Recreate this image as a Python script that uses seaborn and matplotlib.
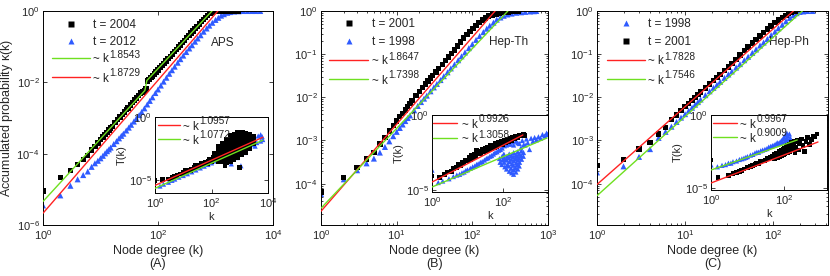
import numpy as np
import matplotlib
matplotlib.use("Agg")
import matplotlib.pyplot as plt
from matplotlib.ticker import LogLocator, NullLocator, NullFormatter
import seaborn as sns

# ---------------- data (log10 of the y values) ----------------
# Panel A, APS
k_aps_2004 = [1, 2, 3, 4, 5, 6, 7, 8, 9, 10, 11, 12, 13, 14, 15, 16, 18, 20, 22, 24, 26, 28, 30, 33, 36,
              39, 42, 46, 50, 55, 59, 62, 66, 70, 75, 80, 86, 93, 100, 108, 117, 127, 138, 150, 163, 177,
              192, 209, 227, 247, 268, 291, 316, 344, 374, 406, 441, 480, 522, 567, 616, 670, 730, 800,
              880, 970, 1080, 1200, 1400, 1650, 1900, 2200, 2500]
lp_aps_2004 = [-5.05, -4.66, -4.47, -4.3, -4.16, -4.05, -3.9, -3.8, -3.7, -3.61, -3.53, -3.46, -3.4, -3.34,
               -3.28, -3.23, -3.13, -3.05, -2.97, -2.9, -2.83, -2.77, -2.72, -2.64, -2.57, -2.5, -2.44,
               -2.37, -2.3, -2.27, -2.23, -2.19, -1.96, -1.92, -1.87, -1.82, -1.77, -1.71, -1.65, -1.59,
               -1.53, -1.47, -1.4, -1.34, -1.27, -1.21, -1.14, -1.08, -1.01, -0.95, -0.88, -0.82, -0.75,
               -0.69, -0.62, -0.56, -0.49, -0.43, -0.36, -0.3, -0.24, -0.18, -0.12, -0.07, -0.04, -0.02,
               -0.01, 0, 0, 0, 0, 0, 0]
k_aps_2012 = [1, 2, 3, 4, 5, 6, 7, 8, 9, 10, 11, 12, 13, 14, 15, 17, 19, 21, 23, 25, 28, 31, 34, 38, 42,
              47, 52, 58, 65, 72, 80, 90, 100, 112, 125, 140, 157, 175, 195, 220, 245, 275, 310, 350, 390,
              440, 490, 550, 620, 700, 780, 880, 1000, 1120, 1250, 1400, 1600, 1800, 2100, 2500, 3000,
              3600, 4300, 5000, 6000]
lp_aps_2012 = [-5.45, -5.17, -4.9, -4.72, -4.6, -4.5, -4.37, -4.27, -4.2, -4.13, -4.06, -3.99, -3.93, -3.88,
               -3.83, -3.73, -3.65, -3.57, -3.5, -3.44, -3.35, -3.27, -3.19, -3.1, -3.01, -2.92, -2.83,
               -2.73, -2.62, -2.52, -2.42, -2.3, -2.2, -2.09, -1.98, -1.87, -1.76, -1.66, -1.56, -1.45,
               -1.35, -1.25, -1.15, -1.05, -0.96, -0.86, -0.77, -0.68, -0.58, -0.49, -0.41, -0.33, -0.25,
               -0.19, -0.13, -0.09, -0.05, -0.03, -0.015, -0.008, 0, 0, 0, 0, 0]
fit_aps_green = ([1, 59, 64, 870], [-5.34, -2.23, -1.95, 0])
fit_aps_red = ([1, 1100], [-5.67, 0])

# Panel A inset
tk_aps_2004 = [1, 1.9, 3, 4, 5, 6, 8, 10, 13, 16, 20, 25, 30, 40, 50, 60, 75, 90, 110,
               12, 18, 28, 35, 45, 70, 85, 100, 120,
               125, 130, 122, 175, 170, 180, 172, 178, 240, 235, 245, 238, 242, 236,
               330, 325, 335, 320, 340, 328, 332, 460, 450, 470, 455, 465, 448, 462, 458,
               630, 620, 640, 625, 635, 615, 645, 628, 870, 860, 880, 855, 875, 865, 885, 850,
               1200, 1180, 1220, 1190, 1210, 1170, 1230, 1650, 1620, 1680, 1600, 1700, 1640,
               2300, 2250, 2350, 2280, 2320, 3150, 3100, 3200, 300, 1000]
tl_aps_2004 = [-5.0, -4.95, -4.9, -4.75, -4.7, -4.6, -4.5, -4.4, -4.3, -4.2, -4.1, -4.0, -3.92, -3.8, -3.7,
               -3.62, -3.52, -3.45, -3.35,
               -4.25, -4.25, -3.85, -3.95, -3.65, -3.65, -3.35, -3.5, -3.2,
               -3.4, -3.1, -2.85, -3.5, -3.2, -2.9, -2.6, -2.35, -3.55, -3.25, -2.95, -2.65, -2.35, -2.05,
               -3.6, -3.3, -3.0, -2.7, -2.4, -2.1, -1.8, -3.5, -3.2, -2.9, -2.6, -2.3, -2.0, -1.7, -1.45,
               -3.4, -3.1, -2.8, -2.5, -2.2, -1.9, -1.6, -1.35, -3.2, -2.9, -2.6, -2.3, -2.0, -1.7, -1.4,
               -1.2, -3.0, -2.7, -2.4, -2.1, -1.8, -1.5, -1.25, -2.8, -2.5, -2.2, -1.9, -1.6, -1.3,
               -2.5, -2.2, -1.9, -1.6, -1.35, -2.1, -1.8, -1.5, -3.8, -3.97]
tk_aps_2012 = [1.5, 2, 3, 4, 5, 7, 10, 14, 20, 28, 40, 55, 75, 100, 140, 200, 280, 400, 550, 750, 1000,
               1400, 2000, 2800, 4000, 5500, 6500, 300, 500, 800, 1500, 1100, 3000, 4500, 5500, 6200,
               3500, 2500]
tl_aps_2012 = [-5.45, -5.3, -5.15, -5.0, -4.9, -4.75, -4.62, -4.48, -4.33, -4.18, -4.02, -3.88, -3.75,
               -3.62, -3.47, -3.32, -3.18, -3.02, -2.88, -2.75, -2.62, -2.47, -2.32, -2.18, -2.02, -1.9,
               -1.78, -3.5, -3.7, -3.2, -2.8, -3.85, -1.6, -1.5, -1.4, -1.55, -2.3, -1.9]
tfit_aps_red = ([1, 6600], [-5.4, -1.6])
tfit_aps_green = ([1, 6600], [-5.63, -1.83])

# Panel B, Hep-Th
k_th_2001 = [1, 2, 3, 4, 5, 6, 7, 8, 9, 10, 11, 12, 13, 14, 15, 16, 18, 20, 22, 24, 26, 28, 30, 33, 36,
             40, 44, 48, 53, 58, 64, 70, 77, 85, 93, 102, 112, 123, 135, 150, 165, 185, 205, 230, 260,
             300, 350, 400]
lp_th_2001 = [-4.19, -3.86, -3.62, -3.43, -3.28, -3.08, -2.93, -2.78, -2.66, -2.55, -2.45, -2.37, -2.29,
              -2.21, -2.14, -2.07, -1.96, -1.86, -1.77, -1.69, -1.62, -1.55, -1.49, -1.41, -1.33, -1.24,
              -1.15, -1.07, -0.98, -0.9, -0.81, -0.72, -0.63, -0.55, -0.47, -0.4, -0.33, -0.27, -0.21,
              -0.16, -0.12, -0.09, -0.07, -0.05, -0.03, -0.02, -0.01, 0]
k_th_1998 = [1, 2, 3, 4, 5, 6, 7, 8, 9, 10, 11, 12, 13, 14, 15, 17, 19, 21, 23, 25, 28, 31, 34, 38, 42,
             47, 52, 58, 65, 72, 80, 90, 100, 112, 125, 140, 155, 170, 190, 210, 235, 260, 290, 330, 380,
             440, 500, 580, 650, 700]
lp_th_1998 = [-4.24, -3.9, -3.69, -3.53, -3.42, -3.28, -3.15, -3.02, -2.9, -2.8, -2.71, -2.63, -2.55,
              -2.48, -2.42, -2.3, -2.2, -2.11, -2.03, -1.96, -1.86, -1.77, -1.69, -1.6, -1.51, -1.42,
              -1.33, -1.24, -1.14, -1.05, -0.96, -0.86, -0.77, -0.67, -0.58, -0.49, -0.41, -0.34, -0.27,
              -0.2, -0.15, -0.11, -0.08, -0.06, -0.04, -0.03, -0.02, -0.01, -0.005, 0]
fit_th_red = ([1, 200], [-4.64, 0])
fit_th_green = ([1, 295], [-4.57, 0])

# Panel B inset
tk_th_2001 = [1, 1.6, 2.2, 2.8, 3.5, 4, 5, 5.5, 6.5, 7, 8, 9, 10, 11, 12, 13, 14, 16, 17, 18, 20, 22, 24,
              26, 28, 31, 34, 37, 40, 44, 48, 52, 57, 62, 68, 75, 82, 90, 100, 110, 120, 130, 145, 160,
              175, 190, 210, 230, 260, 290, 330, 370, 420]
tl_th_2001 = [-4.07, -4.15, -3.95, -3.8, -3.75, -3.55, -3.5, -3.3, -3.35, -3.15, -3.2, -3.0, -3.05, -2.85,
              -2.95, -2.7, -2.85, -2.6, -2.75, -2.35, -2.55, -2.4, -2.6, -2.3, -2.45, -2.2, -2.4, -2.15,
              -2.3, -2.05, -2.25, -2.0, -2.15, -1.9, -2.1, -1.85, -2.0, -1.75, -1.95, -1.7, -1.85, -1.6,
              -1.8, -1.55, -1.7, -1.5, -1.6, -1.45, -1.5, -1.35, -1.4, -1.3, -1.35]
tk_th_1998 = [1, 1.5, 2, 3, 4, 5, 6, 7, 8, 9, 10, 12, 14, 16, 18, 20, 23, 26, 30, 34, 38, 43, 48, 54, 60,
              68, 75, 85, 95, 110, 125, 140, 160, 180, 200, 230, 260, 290, 320, 350, 380, 420, 460, 500,
              560, 620, 700, 780, 880, 1000, 1150, 1300, 1500, 1700, 1800,
              80, 83, 95, 97, 93, 110, 108, 113, 106, 130, 128, 133, 126, 150, 148, 153, 146, 151,
              175, 172, 178, 170, 176, 200, 197, 204, 195, 202, 199, 230, 226, 234, 228, 232,
              260, 256, 264, 258, 262, 290, 286, 294, 288, 330, 325, 335, 380, 375]
tl_th_1998 = [-3.67, -4.5, -4.4, -4.25, -4.1, -4.0, -3.95, -3.85, -3.8, -3.7, -3.65, -3.55, -3.45, -3.4,
              -3.3, -3.25, -3.15, -3.1, -3.0, -2.9, -2.85, -2.75, -2.7, -2.6, -2.5, -2.45, -2.35, -2.3,
              -2.2, -2.05, -2.0, -1.9, -1.95, -1.8, -2.0, -1.75, -1.85, -1.9, -2.2, -1.7, -2.0, -2.0,
              -1.6, -1.85, -2.3, -1.55, -1.75, -1.5, -1.65, -1.45, -1.55, -1.3, -1.4, -1.2, -1.3,
              -2.9, -3.15, -2.75, -3.0, -3.3, -2.9, -3.15, -3.45, -2.6, -2.75, -3.0, -3.3, -3.6,
              -2.6, -2.85, -3.1, -3.4, -3.75, -2.7, -2.95, -3.25, -3.55, -3.85, -2.5, -2.8, -3.05,
              -3.35, -3.65, -3.95, -2.65, -2.9, -3.2, -3.5, -3.8, -2.45, -2.75, -3.0, -3.3, -3.6,
              -2.6, -2.85, -3.15, -3.4, -2.4, -2.7, -2.95, -2.5, -2.75]
tfit_th_red = ([1, 365], [-4.47, -1.33])
tfit_th_green = ([1, 1740], [-4.8, -1.53])

# Panel C, Hep-Ph
k_ph_1998 = [1, 2, 3, 4, 5, 6, 7, 8, 9, 10, 11, 12, 13, 14, 15, 17, 19, 21, 23, 25, 28, 31, 34, 38, 42,
             47, 52, 58, 64, 71, 78, 86, 95, 105, 115, 127, 140, 155, 170, 185, 200, 220, 245, 280]
lp_ph_1998 = [-3.74, -3.6, -3.38, -3.2, -2.94, -2.8, -2.68, -2.57, -2.47, -2.39, -2.31, -2.24, -2.17,
              -2.11, -2.05, -1.95, -1.86, -1.78, -1.71, -1.64, -1.55, -1.47, -1.4, -1.31, -1.23, -1.14,
              -1.06, -0.97, -0.89, -0.8, -0.73, -0.65, -0.56, -0.48, -0.4, -0.32, -0.24, -0.16, -0.1,
              -0.05, -0.02, -0.01, 0, 0]
k_ph_2001 = [1, 2, 3, 4, 5, 6, 7, 8, 9, 10, 11, 12, 13, 14, 15, 17, 19, 21, 23, 25, 28, 31, 34, 38, 42,
             47, 52, 58, 64, 71, 78, 86, 95, 105, 115, 127, 140, 150, 160, 170, 180]
lp_ph_2001 = [-3.58, -3.44, -3.2, -3.04, -2.85, -2.7, -2.52, -2.41, -2.31, -2.22, -2.14, -2.07, -2.0,
              -1.94, -1.88, -1.78, -1.69, -1.61, -1.54, -1.47, -1.38, -1.3, -1.22, -1.12, -1.02, -0.92,
              -0.83, -0.74, -0.66, -0.58, -0.5, -0.42, -0.35, -0.27, -0.21, -0.15, -0.1, -0.06, -0.03,
              -0.01, 0]
fit_ph_red = ([1, 170], [-4.02, 0])
fit_ph_green = ([1, 215], [-4.28, 0])

# Panel C inset
tk_ph_1998 = [1, 1.5, 2, 2.5, 3, 3.5, 4, 5, 6, 7, 8, 9, 10, 12, 14, 16, 18, 20, 23, 26, 30, 34, 38, 43,
              48, 54, 60, 65, 70, 78, 85, 90, 95, 100, 105, 110, 115, 120, 125, 130, 135, 140, 150, 100,
              110]
tl_ph_1998 = [-3.42, -3.55, -3.45, -3.4, -3.3, -3.3, -3.2, -3.15, -3.05, -3.0, -2.95, -2.9, -2.85, -2.75,
              -2.7, -2.6, -2.55, -2.55, -2.45, -2.4, -2.35, -2.3, -2.2, -2.15, -2.1, -2.05, -2.0, -1.9,
              -1.95, -1.85, -1.75, -1.9, -1.65, -1.5, -1.8, -1.35, -1.6, -1.25, -1.7, -1.45, -1.75, -1.3,
              -1.6, -2.55, -2.4]
tk_ph_2001 = [1, 1.55, 3, 4, 5, 6, 7, 8, 10, 12, 14, 16, 18, 20, 23, 26, 30, 34, 38, 43, 48, 54, 54, 60,
              60, 68, 68, 75, 75, 85, 85, 95, 95, 105, 105, 115, 115, 125, 125, 140, 140, 150, 160, 170,
              180, 190, 200, 210, 230, 250, 270, 300, 330, 360, 400, 450, 500, 560, 620, 700, 800]
tl_ph_2001 = [-3.08, -4.3, -4.15, -4.0, -3.95, -3.85, -3.8, -3.7, -3.6, -3.55, -3.45, -3.4, -3.35, -3.3,
              -3.2, -3.15, -3.1, -3.0, -2.95, -2.9, -2.85, -2.7, -3.0, -2.65, -2.95, -2.6, -2.9, -2.5,
              -2.85, -2.45, -2.75, -2.35, -2.7, -2.3, -2.65, -2.2, -2.55, -2.1, -2.6, -2.0, -2.5, -2.3,
              -1.9, -2.4, -2.1, -1.8, -2.6, -2.2, -1.75, -2.4, -1.95, -1.65, -2.1, -2.5, -1.8, -1.55,
              -2.0, -1.7, -1.5, -1.45, -1.3]
tfit_ph_red = ([1, 850], [-4.66, -1.85])
tfit_ph_green = ([1, 230], [-3.77, -1.71])

# ---------------- style ----------------
sns.set_style("ticks")
plt.rcParams['font.family'] = ['Liberation Sans', 'DejaVu Sans']
plt.rcParams['mathtext.fontset'] = 'custom'
plt.rcParams['mathtext.rm'] = 'Liberation Sans'
plt.rcParams['mathtext.it'] = 'Liberation Sans:italic'
plt.rcParams['mathtext.bf'] = 'Liberation Sans:bold'
plt.rcParams['axes.linewidth'] = 0.7

BLUE = '#2f5bff'
RED = '#ff2222'
GREEN = '#6fe020'
SQ = 15
TRI = 19

W, H = 830, 276


def pow10(e):
    return r'$\mathregular{10^{%d}}$' % e


def squares(ax, k, lp, size=SQ):
    sns.scatterplot(x=k, y=np.power(10.0, lp), marker='s', s=size, color='black',
                    edgecolor='none', linewidth=0, ax=ax, legend=False, zorder=3)


def triangles(ax, k, lp, size=TRI):
    sns.scatterplot(x=k, y=np.power(10.0, lp), marker='^', s=size, color=BLUE,
                    edgecolor='none', linewidth=0, ax=ax, legend=False, zorder=2)


def fitline(ax, k, lp, color):
    sns.lineplot(x=k, y=np.power(10.0, lp), color=color, lw=1.0, ax=ax, legend=False,
                 estimator=None, sort=False, zorder=4)


def style_axes(ax, xlim, ylim, xt, yt, minor, labelsize=8):
    ax.set_xscale('log')
    ax.set_yscale('log')
    ax.set_xlim(*xlim)
    ax.set_ylim(*ylim)
    ax.set_xticks([10.0 ** e for e in xt])
    ax.set_xticklabels([pow10(e) for e in xt])
    ax.set_yticks([10.0 ** e for e in yt])
    ax.set_yticklabels([pow10(e) for e in yt])
    if minor:
        ax.xaxis.set_minor_locator(LogLocator(base=10, subs=np.arange(2, 10)))
        ax.yaxis.set_minor_locator(LogLocator(base=10, subs=np.arange(2, 10)))
    else:
        ax.xaxis.set_minor_locator(NullLocator())
        ax.yaxis.set_minor_locator(NullLocator())
    ax.xaxis.set_minor_formatter(NullFormatter())
    ax.yaxis.set_minor_formatter(NullFormatter())
    ax.tick_params(which='both', direction='in', top=True, right=True, width=0.6,
                   labelsize=labelsize, pad=2.5)
    ax.tick_params(which='major', length=3)
    ax.tick_params(which='minor', length=1.6)
    for s in ax.spines.values():
        s.set_visible(True)
        s.set_color('black')
    ax.set_facecolor('white')


def add_axes_px(left, top, right, bottom):
    return fig.add_axes([left / W, 1 - bottom / H, (right - left) / W, (bottom - top) / H])


def px_legend(ax, entries, x1, x2, xt, rows, fontsize=8.5, expsize=7.3):
    # legend drawn by hand in figure pixels (measured from the top-left corner)
    renderer = fig.canvas.get_renderer()
    for (kind, lab), row in zip(entries, rows):
        y = (H - row) / H
        if kind == 'sq':
            fig.lines.append(plt.Line2D([(x1 + x2) / 2 / W], [y], transform=fig.transFigure, ls='none',
                                        marker='s', ms=4, color='black', mec='none', zorder=6))
        elif kind == 'tri':
            fig.lines.append(plt.Line2D([(x1 + x2) / 2 / W], [y], transform=fig.transFigure, ls='none',
                                        marker='^', ms=4.6, color=BLUE, mec='none', zorder=6))
        else:
            fig.lines.append(plt.Line2D([x1 / W, x2 / W], [y, y], transform=fig.transFigure,
                                        color=kind, lw=1.0, zorder=6))
        if isinstance(lab, tuple):
            base, exp = lab
            t = fig.text(xt / W, (H - row - 1.5) / H, base, fontsize=fontsize, ha='left',
                         va='center', zorder=6)
            bb = t.get_window_extent(renderer=renderer)
            fig.text((bb.x1 + 0.5) / W, (H - row + 3.5) / H, exp, fontsize=expsize, ha='left',
                     va='center', zorder=6)
        else:
            fig.text(xt / W, (H - row - 1) / H, lab, fontsize=fontsize, ha='left', va='center',
                     zorder=6)


fig = plt.figure(figsize=(W / 100, H / 100), dpi=100)
axA = add_axes_px(43, 11, 273, 225)
axB = add_axes_px(321, 11, 548, 225)
axC = add_axes_px(597, 11, 828, 225)

# ---- Panel A ----
triangles(axA, k_aps_2012, lp_aps_2012)
squares(axA, k_aps_2004, lp_aps_2004)
fitline(axA, *fit_aps_red, RED)
fitline(axA, *fit_aps_green, GREEN)
style_axes(axA, (1, 1e4), (1e-6, 1), [0, 2, 4], [-6, -4, -2, 0], minor=False)
axA.set_ylabel(r'Accumulated probability $\mathregular{\kappa}$(k)', fontsize=9, labelpad=1)
axA.set_xlabel('Node degree (k)\n(A)', fontsize=9, labelpad=2, linespacing=1.05)
axA.text(0.78, 0.85, 'APS', transform=axA.transAxes, fontsize=8.5, ha='center', va='center')

# ---- Panel B ----
triangles(axB, k_th_1998, lp_th_1998)
squares(axB, k_th_2001, lp_th_2001)
fitline(axB, *fit_th_red, RED)
fitline(axB, *fit_th_green, GREEN)
style_axes(axB, (1, 1e3), (1.1e-5, 1), [0, 1, 2, 3], [-4, -3, -2, -1, 0], minor=True)
axB.set_xlabel('Node degree (k)\n(B)', fontsize=9, labelpad=2, linespacing=1.05)
axB.text(0.825, 0.855, 'Hep-Th', transform=axB.transAxes, fontsize=8.5, ha='center', va='center')

# ---- Panel C ----
triangles(axC, k_ph_1998, lp_ph_1998)
squares(axC, k_ph_2001, lp_ph_2001)
fitline(axC, *fit_ph_red, RED)
fitline(axC, *fit_ph_green, GREEN)
style_axes(axC, (1, 420), (1.1e-5, 1), [0, 1, 2], [-4, -3, -2, -1, 0], minor=True)
axC.set_xlabel('Node degree (k)\n(C)', fontsize=9, labelpad=2, linespacing=1.05)
axC.text(0.83, 0.855, 'Hep-Ph', transform=axC.transAxes, fontsize=8.5, ha='center', va='center')

# ---- insets ----
inA = add_axes_px(155, 117, 268, 193)
triangles(inA, tk_aps_2012, tl_aps_2012, size=14)
squares(inA, tk_aps_2004, tl_aps_2004, size=12)
fitline(inA, *tfit_aps_red, RED)
fitline(inA, *tfit_aps_green, GREEN)
style_axes(inA, (1, 1e4), (1e-6, 1), [0, 2, 4], [-5, 0], minor=False)

inB = add_axes_px(432, 115, 548, 192)
squares(inB, tk_th_2001, tl_th_2001, size=12)
triangles(inB, tk_th_1998, tl_th_1998, size=14)
fitline(inB, *tfit_th_red, RED)
fitline(inB, *tfit_th_green, GREEN)
style_axes(inB, (1, 1860), (10 ** -5.13, 1), [0, 2], [-5, 0], minor=True)

inC = add_axes_px(711, 115, 827, 190)
triangles(inC, tk_ph_1998, tl_ph_1998, size=14)
squares(inC, tk_ph_2001, tl_ph_2001, size=12)
fitline(inC, *tfit_ph_red, RED)
fitline(inC, *tfit_ph_green, GREEN)
style_axes(inC, (1, 1500), (10 ** -5.14, 1), [0, 2], [-5, 0], minor=True)

for ax in (inA, inB, inC):
    ax.set_ylabel('T(k)', fontsize=8, labelpad=1)
    ax.set_xlabel('k', fontsize=8, labelpad=1)

# ---- legends ----
px_legend(axA, [('sq', 't = 2004'), ('tri', 't = 2012'),
                (GREEN, ('~ k', '1.8543')), (RED, ('~ k', '1.8729'))],
          52, 90, 93, [24, 41, 58, 77])
px_legend(axB, [('sq', 't = 2001'), ('tri', 't = 1998'),
                (RED, ('~ k', '1.8647')), (GREEN, ('~ k', '1.7398'))],
          329, 368, 372, [23, 41, 60, 79])
px_legend(axC, [('tri', 't = 1998'), ('sq', 't = 2001'),
                (RED, ('~ k', '1.7828')), (GREEN, ('~ k', '1.7546'))],
          607, 645, 648, [23, 41, 60, 79])
px_legend(inA, [(RED, ('~ k', '1.0957')), (GREEN, ('~ k', '1.0772'))],
          158, 180, 183, [125, 139])
px_legend(inB, [(RED, ('~ k', '0.9926')), (GREEN, ('~ k', '1.3058'))],
          433, 457, 462, [123, 138])
px_legend(inC, [(RED, ('~ k', '0.9967')), (GREEN, ('~ k', '0.9009'))],
          713, 737, 740, [123, 137])

fig.savefig('out.png', dpi=100, facecolor='white')
